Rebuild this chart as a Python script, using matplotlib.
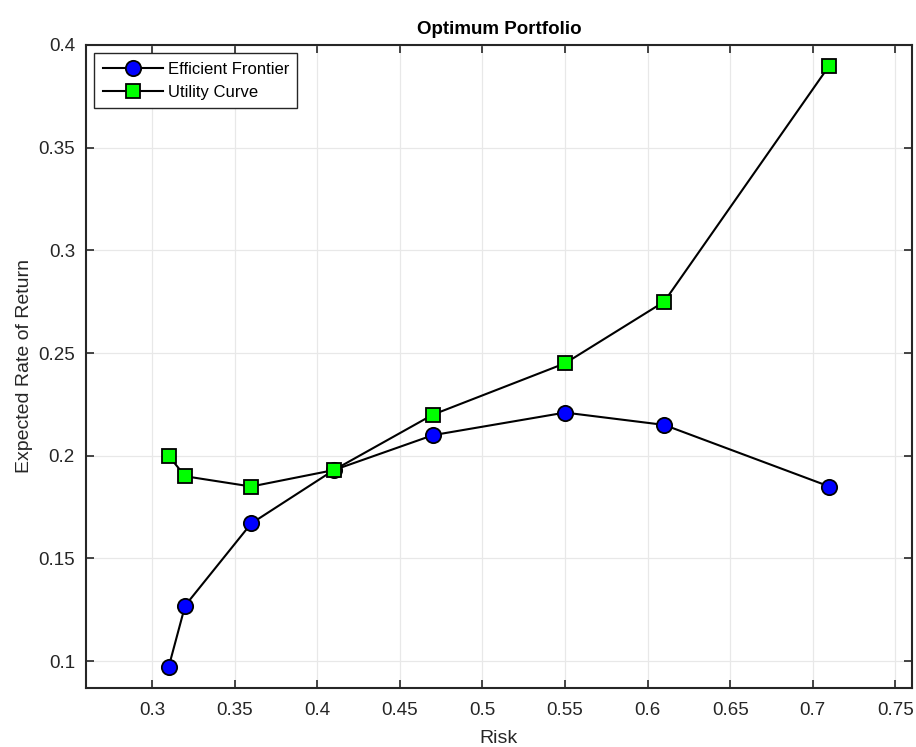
import matplotlib
matplotlib.use('Agg')
import matplotlib.pyplot as plt

plt.rcParams['font.family'] = ['Liberation Sans', 'DejaVu Sans']

# data
risk = [0.31, 0.32, 0.36, 0.41, 0.47, 0.55, 0.61, 0.71]
frontier = [0.097, 0.127, 0.167, 0.193, 0.210, 0.221, 0.215, 0.185]
utility = [0.200, 0.190, 0.185, 0.193, 0.220, 0.245, 0.275, 0.390]
xticks = [0.3, 0.35, 0.4, 0.45, 0.5, 0.55, 0.6, 0.65, 0.7, 0.75]
yticks = [0.1, 0.15, 0.2, 0.25, 0.3, 0.35, 0.4]

fig = plt.figure(figsize=(9.16, 7.47), dpi=100)
ax = fig.add_axes([0.0939, 0.079, 0.9017, 0.8608])

ax.plot(risk, frontier, '-o', color='black', lw=1.5, markersize=11,
        markerfacecolor='#0000ff', markeredgecolor='black', markeredgewidth=1.3,
        label='Efficient Frontier')
ax.plot(risk, utility, '-s', color='black', lw=1.5, markersize=10,
        markerfacecolor='#00ff00', markeredgecolor='black', markeredgewidth=1.3,
        label='Utility Curve')

ax.set_xlim(0.26, 0.76)
ax.set_ylim(0.0869, 0.4)
ax.set_xticks(xticks)
ax.set_yticks(yticks)
ax.set_xticklabels([('%g' % v) for v in xticks])
ax.set_yticklabels([('%g' % v) for v in yticks])
ax.tick_params(direction='in', length=6, width=1.2, top=True, right=True,
               labelsize=13.5, colors='#262626')
ax.tick_params(axis='x', pad=10)
ax.tick_params(axis='y', pad=8)
ax.grid(True, color='#e8e8e8', lw=0.9)
ax.set_axisbelow(True)
for s in ax.spines.values():
    s.set_linewidth(1.5)
    s.set_color('#262626')

ax.set_xlabel('Risk', fontsize=14, color='#262626', labelpad=8)
ax.set_ylabel('Expected Rate of Return', fontsize=14, color='#262626', labelpad=4)
ax.set_title('Optimum Portfolio', fontsize=13.5, fontweight='bold', pad=8)

leg = ax.legend(loc='upper left', fontsize=12, fancybox=False, framealpha=1,
                edgecolor='#262626', borderaxespad=0.5, handlelength=3.6,
                handletextpad=0.3, borderpad=0.5, labelspacing=0.5)
leg.get_frame().set_linewidth(1.0)

fig.savefig('out.png', dpi=100)
